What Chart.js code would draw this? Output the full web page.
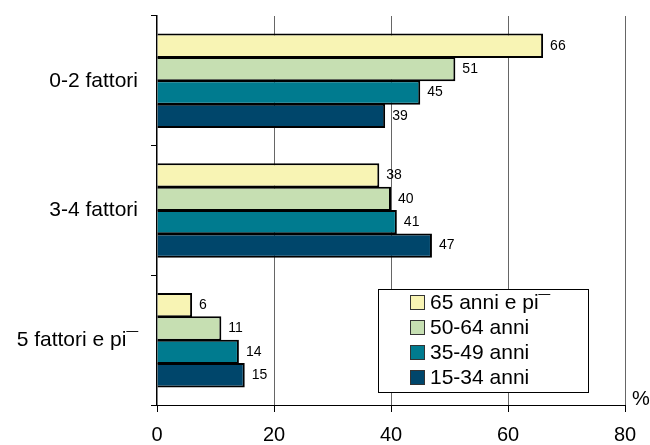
<!DOCTYPE html>
<html>
<head>
<meta charset="utf-8">
<script src="https://cdn.jsdelivr.net/npm/chart.js@4/dist/chart.umd.min.js"></script>
<style>
  html, body { margin: 0; padding: 0; background: #fff; }
  #wrap { width: 650px; height: 445px; position: relative; }
</style>
</head>
<body>
<div id="wrap"><canvas id="c" width="650" height="445"></canvas></div>
<script>
// Categories (number of risk factors) and age-group series, values in %
const categories = ['0-2 fattori', '3-4 fattori', '5 fattori e pi¯'];
const seriesNames = ['65 anni e pi¯', '50-64 anni', '35-49 anni', '15-34 anni'];
const age65plus = [66, 38, 6];
const age50to64 = [51, 40, 11];
const age35to49 = [45, 41, 14];
const age15to34 = [39, 47, 15];
const xTicks = [0, 20, 40, 60, 80];

const colors = ['#F8F4B4', '#C6DFB2', '#007B8F', '#00466B'];
const FONT = '"Liberation Sans", Arial, sans-serif';

const seriesValues = [age65plus, age50to64, age35to49, age15to34];
const datasets = seriesNames.map((name, i) => ({
  label: name,
  data: seriesValues[i],
  backgroundColor: colors[i],
  borderColor: '#000',
  borderWidth: 2,
  borderSkipped: 'start',
  barPercentage: 1.04,
  categoryPercentage: 0.722
}));

// Value labels to the right of each bar
const valueLabels = {
  id: 'valueLabels',
  afterDatasetsDraw(chart) {
    const ctx = chart.ctx;
    ctx.save();
    ctx.font = '14px ' + FONT;
    ctx.fillStyle = '#000';
    ctx.textAlign = 'left';
    ctx.textBaseline = 'middle';
    chart.data.datasets.forEach((ds, i) => {
      chart.getDatasetMeta(i).data.forEach((bar, j) => {
        ctx.fillText(String(ds.data[j]), bar.x + 7, bar.y);
      });
    });
    ctx.restore();
  }
};

// Boxed legend inside the plot, plus the "%" unit mark
const boxLegend = {
  id: 'boxLegend',
  afterDraw(chart) {
    const ctx = chart.ctx;
    const area = chart.chartArea;
    ctx.save();
    const bx = 378.5, by = 289.5, bw = 210, bh = 103;
    ctx.fillStyle = '#fff';
    ctx.fillRect(bx, by, bw, bh);
    ctx.strokeStyle = '#000';
    ctx.lineWidth = 1;
    ctx.strokeRect(bx, by, bw, bh);
    ctx.font = '21px ' + FONT;
    ctx.textBaseline = 'middle';
    ctx.textAlign = 'left';
    chart.data.datasets.forEach((ds, i) => {
      const cy = 302.5 + i * 25;
      ctx.fillStyle = ds.backgroundColor;
      ctx.fillRect(410.5, cy - 7, 14, 14);
      ctx.strokeStyle = '#333';
      ctx.strokeRect(410.5, cy - 7, 14, 14);
      ctx.fillStyle = '#000';
      ctx.fillText(ds.label, 430, cy + 1);
    });
    ctx.font = '20px ' + FONT;
    ctx.textAlign = 'center';
    ctx.fillText('%', area.right + 16, area.bottom - 6);
    ctx.restore();
  }
};

new Chart(document.getElementById('c'), {
  type: 'bar',
  data: { labels: categories, datasets },
  options: {
    indexAxis: 'y',
    responsive: false,
    animation: false,
    devicePixelRatio: 1,
    layout: { padding: { top: 16, right: 25, left: 0, bottom: 0 } },
    plugins: {
      legend: { display: false },
      tooltip: { enabled: false }
    },
    scales: {
      x: {
        min: 0,
        max: 80,
        afterBuildTicks(scale) { scale.ticks = xTicks.map(v => ({ value: v })); },
        afterFit(scale) { scale.height = 40; scale.paddingLeft = 0; scale.paddingRight = 0; },
        grid: {
          color: ctx => (ctx.tick && ctx.tick.value === 0) ? 'rgba(0,0,0,0)' : '#666',
          tickColor: '#000',
          tickLength: 7,
          lineWidth: 1
        },
        border: { color: '#000', width: 1 },
        ticks: { color: '#000', font: { family: FONT, size: 20 }, padding: 11 }
      },
      y: {
        offset: true,
        afterFit(scale) { scale.width = 157; scale.paddingTop = 0; scale.paddingBottom = 0; },
        grid: {
          offset: true,
          drawOnChartArea: false,
          tickColor: '#000',
          tickLength: 6
        },
        border: { color: '#000', width: 1.5 },
        ticks: { color: '#000', font: { family: FONT, size: 21 }, padding: 13 }
      }
    }
  },
  plugins: [valueLabels, boxLegend]
});
</script>
</body>
</html>
